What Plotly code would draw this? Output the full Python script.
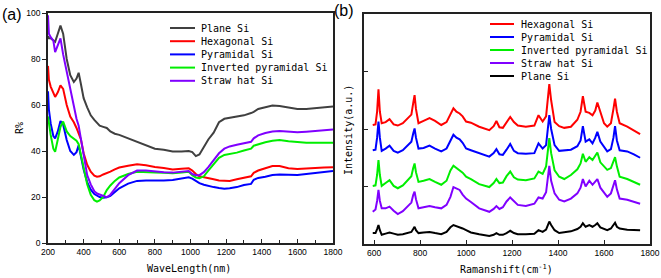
import plotly.graph_objects as go

# ---------------- Panel (a): reflectance ----------------
WL = [200, 205, 215, 230, 240, 255, 270, 285, 305, 325, 345, 360, 372, 385, 400, 420,
      440, 460, 475, 490, 510, 530, 550, 575, 600, 650, 700, 750, 800, 850, 900, 950,
      990, 1010, 1030, 1050, 1075, 1100, 1130, 1160, 1190, 1220, 1260, 1300, 1340, 1355,
      1380, 1420, 1460, 1500, 1550, 1600, 1650, 1700, 1750, 1800]

R_PLANE = [90, 89, 89, 88, 87.5, 91, 94.5, 91, 80, 73, 70, 71.5, 74, 69, 63, 59,
           55.5, 53.5, 52, 51, 50.5, 50, 48.5, 47.5, 47, 45.5, 43.8, 42.5, 41, 40.5, 39.8, 39.8,
           40, 39.5, 37.8, 38.5, 42, 45, 48, 52.5, 54, 54.5, 55, 55.5, 56.5, 57,
           58.3, 59, 59.8, 59.6, 58.8, 58.3, 58.3, 58.6, 58.8, 59.3]
R_HEX = [77, 71, 68, 65, 63.5, 65.5, 68.5, 67, 60, 55, 52.5, 50, 47.5, 45, 39, 34,
         31, 29.3, 28.8, 29, 29.8, 30.3, 31, 32, 32.8, 33.6, 34.2, 33.8, 33, 32.6, 32, 32.3,
         32.5, 31.5, 30, 29, 28.5, 28, 27.7, 27.2, 27, 27, 27.7, 28.2, 29, 30.5,
         31.5, 32.5, 33.5, 33.5, 32.5, 32.2, 32.5, 32.8, 32.8, 32.9]
R_PYR = [66, 58, 52, 46.5, 45.5, 48.5, 53, 51.5, 44.8, 40, 38.3, 39.5, 42.5, 37, 32, 26.5,
         23.2, 21.3, 20.6, 20, 19.7, 19.9, 20.5, 22, 23.8, 25.8, 27, 27.2, 27.1, 27.2, 27.4, 28,
         28.6, 28, 27, 26, 25.3, 24.7, 24.3, 23.9, 23.6, 23.8, 24.3, 25.2, 25.7, 27.5,
         28.3, 28.8, 29.6, 29.8, 29.6, 29.6, 30, 30.4, 30.8, 31.3]
R_INV = [55, 52, 47, 41, 39.7, 45, 50.5, 52.8, 48.5, 46.5, 45.5, 44.5, 43, 38, 33, 25.5,
         21, 18.6, 18, 18.5, 20, 23, 25, 27, 28.5, 30, 31, 31, 30.7, 30.5, 30.3, 30.7,
         31, 29.5, 28.5, 28.2, 29, 31.5, 34.5, 37, 38.3, 38.6, 39.3, 40.2, 41, 42.3,
         43, 43.8, 44.5, 44.8, 44.2, 43.8, 43.6, 43.6, 43.5, 43.6]
R_STRAW = [99, 91, 89.5, 88, 83, 86, 89, 82, 74.5, 67, 60, 54, 51, 45, 37, 29.5,
           25.5, 22.5, 21.5, 21, 20.3, 19.9, 21, 23.5, 26, 29.5, 31.5, 31.5, 31, 30.8, 30.6, 31,
           31.3, 30, 29.5, 29.5, 30.8, 33, 36, 39, 41, 42, 42.7, 43.2, 44, 45.5,
           46.8, 47.8, 48.5, 48.7, 48.3, 48.1, 48.4, 48.7, 49.1, 49.4]

# ---------------- Panel (b): Raman ----------------
RS = [594, 606, 613, 619, 625, 633,
      650, 667, 685, 703, 725, 747,
      762, 770, 776, 782, 793, 815,
      841, 865, 892, 915, 932, 945,
      958, 972, 985, 1000, 1021, 1057,
      1101, 1120, 1132, 1145, 1160, 1176,
      1192, 1208, 1225, 1260, 1297, 1315,
      1333, 1348, 1356, 1362, 1370, 1385,
      1405, 1427, 1456, 1484, 1498, 1508,
      1520, 1536, 1550, 1562, 1571, 1584,
      1600, 1614, 1630, 1641, 1648, 1656,
      1668, 1701, 1730, 1757]

I_HEX = [2.07, 2.08, 2.30, 2.69, 2.30, 2.10,
         2.12, 2.17, 2.08, 2.06, 2.10, 2.19,
         2.25, 2.45, 2.59, 2.35, 2.10, 2.14,
         2.19, 2.14, 2.07, 2.12, 2.25, 2.36,
         2.30, 2.27, 2.22, 2.13, 2.11, 2.04,
         1.98, 2.05, 2.14, 2.03, 2.02, 2.12,
         2.21, 2.12, 2.06, 2.04, 2.06, 2.24,
         2.13, 2.22, 2.55, 2.78, 2.50, 2.12,
         2.05, 2.02, 2.04, 2.16, 2.30, 2.57,
         2.30, 2.28, 2.24, 2.32, 2.46, 2.30,
         2.10, 2.04, 2.10, 2.35, 2.53, 2.30,
         2.10, 2.04, 1.98, 1.91]
I_PYR = [1.63, 1.64, 1.85, 2.13, 1.85, 1.62,
         1.66, 1.71, 1.62, 1.59, 1.63, 1.72,
         1.78, 1.92, 2.01, 1.85, 1.66, 1.67,
         1.71, 1.66, 1.61, 1.66, 1.80, 1.90,
         1.85, 1.82, 1.76, 1.66, 1.63, 1.58,
         1.52, 1.58, 1.65, 1.56, 1.55, 1.64,
         1.74, 1.62, 1.58, 1.57, 1.58, 1.75,
         1.66, 1.72, 1.98, 2.24, 2.00, 1.72,
         1.62, 1.63, 1.64, 1.70, 1.80, 2.05,
         1.78, 1.82, 1.75, 1.85, 1.95, 1.78,
         1.68, 1.61, 1.65, 1.85, 2.05, 1.80,
         1.63, 1.61, 1.56, 1.50]
I_INV = [1.01, 1.02, 1.20, 1.46, 1.20, 1.01,
         1.06, 1.11, 1.01, 0.97, 1.02, 1.11,
         1.18, 1.32, 1.40, 1.25, 1.08, 1.10,
         1.13, 1.08, 1.03, 1.10, 1.28, 1.36,
         1.32, 1.29, 1.24, 1.17, 1.13, 1.04,
         0.99, 1.06, 1.13, 1.06, 1.07, 1.18,
         1.26, 1.16, 1.12, 1.11, 1.14, 1.26,
         1.22, 1.35, 1.65, 1.84, 1.58, 1.28,
         1.17, 1.13, 1.20, 1.30, 1.40, 1.57,
         1.43, 1.51, 1.46, 1.55, 1.59, 1.42,
         1.35, 1.29, 1.32, 1.45, 1.51, 1.35,
         1.17, 1.13, 1.08, 1.03]
I_STRAW = [0.56, 0.60, 0.75, 0.94, 0.75, 0.62,
           0.62, 0.65, 0.58, 0.52, 0.57, 0.65,
           0.72, 0.85, 0.91, 0.78, 0.62, 0.64,
           0.66, 0.64, 0.62, 0.68, 0.82, 0.99,
           0.96, 0.94, 0.86, 0.79, 0.73, 0.62,
           0.56, 0.61, 0.66, 0.61, 0.64, 0.74,
           0.81, 0.74, 0.68, 0.66, 0.70, 0.81,
           0.79, 0.90, 1.15, 1.36, 1.10, 0.88,
           0.77, 0.74, 0.79, 0.88, 0.98, 1.13,
           1.00, 1.10, 1.03, 1.10, 1.13, 0.98,
           0.90, 0.82, 0.88, 1.02, 1.11, 0.95,
           0.79, 0.77, 0.73, 0.70]
I_PLANE = [0.19, 0.19, 0.26, 0.33, 0.24, 0.16,
           0.18, 0.20, 0.18, 0.16, 0.17, 0.20,
           0.21, 0.26, 0.30, 0.24, 0.19, 0.20,
           0.21, 0.19, 0.17, 0.21, 0.29, 0.33,
           0.31, 0.30, 0.27, 0.24, 0.20, 0.17,
           0.14, 0.16, 0.19, 0.16, 0.16, 0.19,
           0.23, 0.19, 0.17, 0.17, 0.18, 0.24,
           0.21, 0.25, 0.33, 0.39, 0.33, 0.24,
           0.19, 0.20, 0.22, 0.26, 0.30, 0.36,
           0.30, 0.33, 0.30, 0.33, 0.36, 0.29,
           0.27, 0.24, 0.27, 0.33, 0.37, 0.30,
           0.27, 0.25, 0.25, 0.24]

LABELS_A = ["Plane Si", "Hexagonal Si", "Pyramidal Si", "Inverted pyramidal Si", "Straw hat Si"]
LABELS_B = ["Hexagonal Si", "Pyramidal Si", "Inverted pyramidal Si", "Straw hat Si", "Plane Si"]

C_BLACK_A = "#404040"
C_RED = "#ff0000"
C_BLUE = "#0000ff"
C_GREEN = "#00ee00"
C_PURPLE = "#8000ff"
C_BLACK = "#000000"
COLORS_A = [C_BLACK_A, C_RED, C_BLUE, C_GREEN, C_PURPLE]
COLORS_B = [C_RED, C_BLUE, C_GREEN, C_PURPLE, C_BLACK]

W, H = 661, 278
fig = go.Figure()

for name, vals, col in zip(LABELS_A, [R_PLANE, R_HEX, R_PYR, R_INV, R_STRAW], COLORS_A):
    fig.add_trace(go.Scatter(x=WL, y=vals, mode="lines", name=name, showlegend=False,
                             line=dict(color=col, width=2), xaxis="x", yaxis="y"))

for name, vals, col in zip(LABELS_B, [I_HEX, I_PYR, I_INV, I_STRAW, I_PLANE], COLORS_B):
    fig.add_trace(go.Scatter(x=RS, y=vals, mode="lines", name=name, showlegend=False,
                             line=dict(color=col, width=2), xaxis="x2", yaxis="y2"))

tickfont = dict(family="Liberation Sans", size=8.5, color="black")
mono = "DejaVu Sans Mono"
titlefont = dict(family=mono, size=10, color="black")

ax_common = dict(showgrid=False, zeroline=False, showline=True, mirror=True,
                 linecolor="#222", linewidth=1.5, automargin=False)

# legend boxes drawn manually (compact rows as in the reference)
shapes = []
annotations = []


def add_legend(labels, colors, x_line0, x_line1, x_text, y_first, step):
    for i, (lab, col) in enumerate(zip(labels, colors)):
        yy = 1 - (y_first + step * i) / H
        shapes.append(dict(type="line", xref="paper", yref="paper",
                           x0=x_line0 / W, x1=x_line1 / W, y0=yy, y1=yy,
                           line=dict(color=col, width=2)))
        annotations.append(dict(text=lab, x=x_text / W, y=yy, xref="paper", yref="paper",
                                xanchor="left", yanchor="middle", showarrow=False,
                                font=dict(family=mono, size=10, color="black")))


add_legend(LABELS_A, COLORS_A, 170, 195, 199, 28, 13.2)
add_legend(LABELS_B, COLORS_B, 490, 514, 519, 24, 13)


def label(text, xpx, ypx, font, angle=0):
    return dict(text=text, x=xpx / W, y=1 - ypx / H, xref="paper", yref="paper",
                xanchor="center", yanchor="middle", showarrow=False, textangle=angle,
                font=font)


big = dict(family="Liberation Sans", size=16, color="black")
annotations += [
    label("(a)", 12, 14, big),
    label("(b)", 344, 11, big),
    label("WaveLength(nm)", 189, 268, titlefont),
    label("R%", 19, 128, titlefont, -90),
    label("Ramanshift(cm<sup>-1</sup>)", 506, 269, titlefont),
    label("Intensity(a.u.)", 348, 130, titlefont, -90),
]

fig.update_layout(
    width=W, height=H,
    margin=dict(l=0, r=0, t=0, b=0, autoexpand=False),
    paper_bgcolor="white", plot_bgcolor="white",
    showlegend=False,
    xaxis=dict(domain=[48 / W, 333 / W], range=[200, 1800], tickvals=list(range(200, 1801, 200)),
               ticks="inside", ticklen=4, tickcolor="#222",
               minor=dict(ticks="inside", ticklen=3, dtick=100, tickcolor="#222"),
               tickfont=tickfont, anchor="y", **ax_common),
    yaxis=dict(domain=[1 - 243 / H, 1 - 13 / H], range=[0, 100], tickvals=list(range(0, 101, 20)),
               ticks="outside", ticklen=4, tickcolor="#222", tickfont=tickfont, anchor="x",
               **ax_common),
    xaxis2=dict(domain=[364 / W, 650 / W], range=[556, 1800], tickvals=list(range(600, 1801, 200)),
                ticks="inside", ticklen=4, tickcolor="#222", tickfont=tickfont, anchor="y2",
                **ax_common),
    yaxis2=dict(domain=[1 - 244 / H, 1 - 14 / H], range=[0, 4], tickvals=[1, 2, 3],
                showticklabels=False, ticks="inside", ticklen=4, tickcolor="#222", anchor="x2",
                **ax_common),
    shapes=shapes,
    annotations=annotations,
)

fig.write_html("out.html",
               config={"displayModeBar": False},
               post_script="document.body.style.margin='0';document.body.style.padding='0';")
